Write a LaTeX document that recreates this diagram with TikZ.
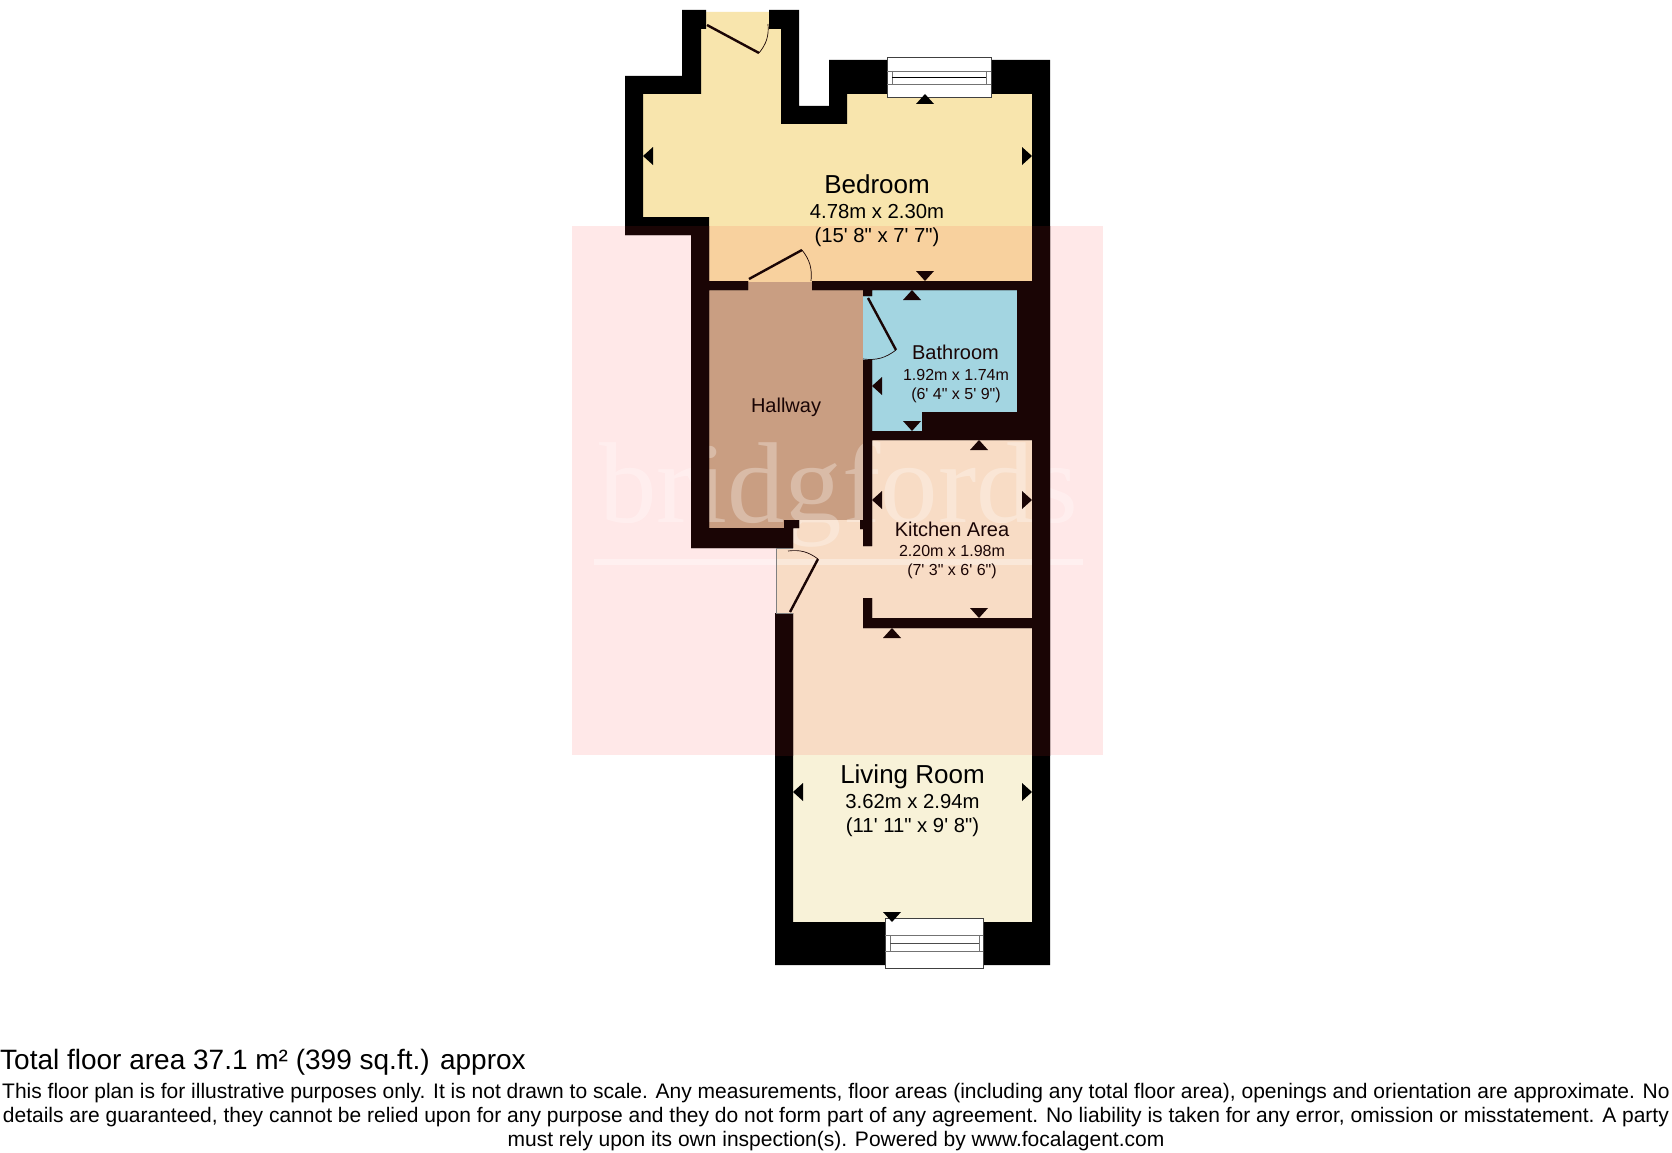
\documentclass[tikz,border=0pt]{standalone}
\usepackage{fontspec}
\setmainfont{Liberation Sans}
\newfontfamily\markfont{Liberation Serif}
\definecolor{bedroomfill}{HTML}{F8E5AD}
\definecolor{hallfill}{HTML}{C3AD8D}
\definecolor{bathfill}{HTML}{99EAF7}
\definecolor{livingfill}{HTML}{F8F2D8}
\definecolor{markfill}{RGB}{255,35,35}
\definecolor{walldark}{HTML}{1A0505}
\newcommand{\ft}{\textquotesingle}
\newcommand{\inch}{\textquotedbl}
\newcommand{\wallshape}{
  (682,10) -- (706,10) -- (706,29) -- (701,29) -- (701,94) -- (643,94) -- (643,217) -- (709,217)
  -- (709,281) -- (748,281) -- (748,290) -- (709,290) -- (709,528) -- (784,528) -- (784,520)
  -- (799,520) -- (799,528) -- (793,528) -- (793,548) -- (691,548) -- (691,235) -- (625,235)
  -- (625,76) -- (682,76) -- cycle
  (769,10) -- (799,10) -- (799,106) -- (829,106) -- (829,60) -- (1050,60) -- (1050,965)
  -- (775,965) -- (775,613) -- (793,613) -- (793,922) -- (1032,922) -- (1032,628) -- (863,628)
  -- (863,598) -- (872,598) -- (872,618) -- (1032,618) -- (1032,440) -- (872,440) -- (872,546)
  -- (863,546) -- (863,529) -- (860,529) -- (860,520) -- (863,520) -- (863,360) -- (872,360)
  -- (872,431) -- (922,431) -- (922,412) -- (1017,412) -- (1017,290) -- (872,290) -- (872,296)
  -- (863,296) -- (863,290) -- (812,290) -- (812,281) -- (1032,281) -- (1032,94) -- (847,94)
  -- (847,124) -- (781,124) -- (781,29) -- (769,29) -- cycle}
\tikzset{
  floor/.style={line width=0.4pt},
  door/.style={line width=2.4pt,walldark},
  swing/.style={line width=0.7pt,walldark},
  roomname/.style={anchor=base,font=\fontsize{20}{20}\selectfont,text=walldark},
  roomsize/.style={anchor=base,font=\fontsize{16}{16}\selectfont,text=walldark},
  bigname/.style={anchor=base,font=\fontsize{26}{26}\selectfont,text=black},
  bigsize/.style={anchor=base,font=\fontsize{20.3}{20.3}\selectfont,text=black},
  pane/.style={draw=black!75,fill=white,line width=0.7pt},
  paneline/.style={draw=black!55,line width=0.7pt},
  footer/.style={anchor=base,font=\fontsize{21}{21}\selectfont,text=black}
}
% triangle: tip on the wall at (#1,#2), pointing along (#3,#4)
\newcommand{\tick}[5][black]{
  \fill[#1] (#2,#3) -- (#2-10*#4+9*#5,#3-10*#5+9*#4) -- (#2-10*#4-9*#5,#3-10*#5-9*#4) -- cycle;
}
\begin{document}
\begin{tikzpicture}[x=1pt,y=-1pt]
  \useasboundingbox (0,0) rectangle (1672,1153);
  \fill[white] (0,0) rectangle (1672,1153);
  % rooms
  \filldraw[floor,fill=bedroomfill,draw=bedroomfill] (706,12) -- (769,12) -- (769,29) -- (781,29) -- (781,124) -- (847,124) -- (847,94)
    -- (1032,94) -- (1032,281) -- (709,281) -- (709,217) -- (643,217) -- (643,94) -- (701,94) -- (701,29) -- (706,29) -- cycle;
  \filldraw[floor,fill=hallfill,draw=hallfill] (709,290) -- (748,290) -- (748,282) -- (812,282) -- (812,290) -- (863,290) -- (863,520)
    -- (784,520) -- (784,528) -- (709,528) -- cycle;
  \filldraw[floor,fill=bathfill,draw=bathfill] (863,296) -- (872,296) -- (872,290) -- (1017,290) -- (1017,412) -- (922,412) -- (922,431)
    -- (872,431) -- (872,360) -- (863,360) -- cycle;
  \filldraw[floor,fill=livingfill,draw=livingfill] (793,528) -- (799,528) -- (799,520) -- (860,520) -- (860,529) -- (863,529) -- (863,546)
    -- (872,546) -- (872,440) -- (1032,440) -- (1032,618) -- (872,618) -- (872,598) -- (863,598) -- (863,628)
    -- (1032,628) -- (1032,922) -- (793,922) -- (793,613) -- (776,613) -- (776,548) -- (793,548) -- cycle;
  % agent mark
  \fill[markfill,fill opacity=0.1] (572,226) rectangle (1103,755);
  \node[anchor=base,inner sep=0pt,opacity=0.3,text=white,font=\markfont\fontsize{115}{115}\selectfont] (mark) at (839,522) {bridgfords};
  \fill[white,opacity=0.35] (594,559) rectangle (1083,565);
  % walls
  \fill[black,even odd rule] \wallshape;
  \begin{scope}
    \clip (572,226) rectangle (1103,755);
    \fill[walldark,even odd rule] \wallshape;
  \end{scope}
  % doors
  \draw[door] (707,25) -- (759,53);
  \draw[swing] (759,53) to[bend right=22] (768,24);
  \draw[door] (749,279) -- (802,250);
  \draw[swing] (802,250) to[bend left=22] (811,281);
  \draw[door] (868,298) -- (896,350);
  \draw[swing] (896,350) to[bend left=22] (863,359);
  \draw[door] (790,612) -- (818,559);
  \draw[swing] (818,559) to[bend right=22] (788,551);
  \draw[black!50,line width=0.4pt] (793,548) -- (776,548) -- (776,613) -- (793,613);
  % windows
  \draw[pane] (887,57) rectangle (991,97);
  \draw[paneline] (887,71) -- (991,71) (887,84) -- (991,84) (892,71) -- (892,84) (986,71) -- (986,84);
  \draw[black,line width=0.7pt] (892,77) -- (986,77);
  \draw[pane] (885,918) rectangle (983,968);
  \draw[paneline] (885,935) -- (983,935) (885,951) -- (983,951) (890,935) -- (890,951) (979,935) -- (979,951);
  \draw[black!70,line width=0.7pt] (890,943) -- (979,943);
  % measure ticks
  \tick{925}{94}{0}{-1}
  \tick{643}{156}{-1}{0}
  \tick{1032}{156}{1}{0}
  \tick[walldark]{925}{281}{0}{1}
  \tick[walldark]{912}{290}{0}{-1}
  \tick[walldark]{872}{386}{-1}{0}
  \tick[walldark]{912}{431}{0}{1}
  \tick[walldark]{979}{440}{0}{-1}
  \tick[walldark]{872}{500}{-1}{0}
  \tick[walldark]{1032}{500}{1}{0}
  \tick[walldark]{979}{618}{0}{1}
  \tick[walldark]{892}{628}{0}{-1}
  \tick{793}{792}{-1}{0}
  \tick{1032}{792}{1}{0}
  \tick{892}{922}{0}{1}
  % labels
  \node[bigname] (bedroom) at (877,193) {Bedroom};
  \node[bigsize] (bedroomm) at (877,218) {4.78m x 2.30m};
  \node[bigsize] (bedroomft) at (877,242) {(15\ft{} 8\inch{} x 7\ft{} 7\inch)};
  \node[roomname] (hallway) at (786,412) {Hallway};
  \node[roomname] (bathroom) at (955.5,359) {Bathroom};
  \node[roomsize] (bathroomm) at (956,380) {1.92m x 1.74m};
  \node[roomsize] (bathroomft) at (956,399) {(6\ft{} 4\inch{} x 5\ft{} 9\inch)};
  \node[roomname] (kitchen) at (952,536) {Kitchen Area};
  \node[roomsize] (kitchenm) at (952,556) {2.20m x 1.98m};
  \node[roomsize] (kitchenft) at (952,575) {(7\ft{} 3\inch{} x 6\ft{} 6\inch)};
  \node[bigname] (living) at (912.5,783) {Living Room};
  \node[bigsize] (livingm) at (912.5,808) {3.62m x 2.94m};
  \node[bigsize] (livingft) at (912.5,832) {(11\ft{} 11\inch{} x 9\ft{} 8\inch)};
  % footer
  \node[anchor=base west,inner sep=0pt,font=\fontsize{28}{28}\selectfont] (total) at (0,1069) {Total floor area 37.1 m² (399 sq.ft.) approx};
  \node[footer] (noteone) at (836,1098) {This floor plan is for illustrative purposes only. It is not drawn to scale. Any measurements, floor areas (including any total floor area), openings and orientation are approximate. No};
  \node[footer] (notetwo) at (836,1122) {details are guaranteed, they cannot be relied upon for any purpose and they do not form part of any agreement. No liability is taken for any error, omission or misstatement. A party};
  \node[footer] (notethree) at (836,1146) {must rely upon its own inspection(s). Powered by www.focalagent.com};
\end{tikzpicture}
\end{document}
